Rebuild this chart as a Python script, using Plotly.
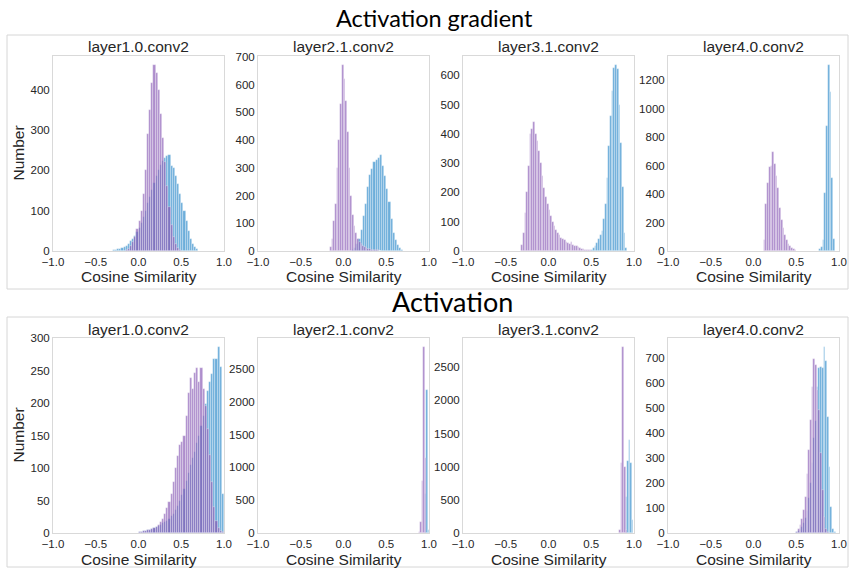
import plotly.graph_objects as go

# ---------------- data ----------------
group_titles = ["Activation gradient", "Activation"]
panel_titles = ["layer1.0.conv2", "layer2.1.conv2", "layer3.1.conv2", "layer4.0.conv2"]
x_ticks = [-1.0, -0.5, 0.0, 0.5, 1.0]

# each series: (first bin edge, bin width, counts)
grad_l1_blue_bins = (-0.30, 0.025)
grad_l1_blue = [2, 3, 4, 5, 7, 9, 12, 18, 24, 30, 38, 48, 58, 70, 85, 100, 118, 135, 150, 168,
                 185, 200, 212, 222, 230, 236, 238, 210, 205, 185, 165, 140, 120, 98, 75, 50, 30, 18, 9, 4]
grad_l1_purple_bins = (-0.15, 0.025)
grad_l1_purple = [3, 6, 12, 22, 35, 55, 75, 100, 140, 200, 290, 350, 415, 460, 440, 400, 340, 280,
                  220, 160, 110, 65, 35, 18, 8, 3]

grad_l2_blue_bins = (0.10, 0.025)
grad_l2_blue = [5, 12, 25, 45, 75, 125, 170, 230, 275, 295, 320, 330, 335, 348, 305, 270, 225, 175,
                115, 65, 40, 22, 12, 5]
grad_l2_purple_bins = (-0.16, 0.02)
grad_l2_purple = [15, 45, 110, 170, 300, 400, 530, 670, 620, 540, 430, 300, 200, 130, 90, 65, 45, 32,
                  24, 18, 14, 11, 9, 7, 5, 4, 3, 2, 2, 1]

grad_l3_blue_bins = (0.50, 0.02)
grad_l3_blue = [5, 10, 18, 28, 40, 55, 70, 110, 160, 250, 360, 460, 545, 625, 634, 620, 500, 370, 220, 60, 10]
grad_l3_purple_bins = (-0.32, 0.02)
grad_l3_purple = [20, 60, 130, 200, 290, 400, 415, 442, 400, 375, 340, 300, 255, 215, 185, 160, 140, 118,
                  100, 85, 72, 62, 55, 45, 40, 38, 32, 28, 25, 30, 22, 18, 16, 13, 10, 8, 6, 5, 4, 3, 2]

grad_l4_blue_bins = (0.77, 0.02)
grad_l4_blue = [12, 30, 80, 410, 880, 1305, 1115, 510, 82]
grad_l4_purple_bins = (0.12, 0.02)
grad_l4_purple = [80, 330, 480, 590, 600, 695, 610, 530, 440, 300, 220, 160, 110, 75, 50, 35, 22, 12, 6, 3]

act_l1_blue_bins = (0.0, 0.025)
act_l1_blue = [2, 2, 3, 3, 4, 5, 6, 7, 9, 11, 13, 15, 17, 19, 22, 26, 30, 36, 42, 50, 58, 68, 80, 92,
               105, 115, 125, 138, 150, 165, 180, 198, 218, 232, 245, 268, 268, 286, 255, 60]
act_l1_purple_bins = (0.0, 0.025)
act_l1_purple = [2, 2, 3, 3, 4, 5, 6, 8, 10, 13, 17, 22, 30, 38, 48, 60, 78, 100, 118, 135, 140, 150,
                 180, 215, 238, 222, 246, 254, 232, 254, 222, 196, 160, 120, 78, 40, 18, 8, 3, 1]

act_l2_blue_bins = (0.952, 0.0175)
act_l2_blue = [600, 2180, 40]
act_l2_purple_bins = (0.8825, 0.0175)
act_l2_purple = [15, 170, 800, 2830, 1140]

act_l3_blue_bins = (0.905, 0.0175)
act_l3_blue = [540, 1090, 1400, 1050, 190]
act_l3_purple_bins = (0.828, 0.0185)
act_l3_purple = [40, 1050, 2800, 1000, 40]

act_l4_blue_bins = (0.50, 0.02)
act_l4_blue = [4, 8, 15, 25, 40, 60, 90, 140, 200, 280, 380, 450, 586, 660, 667, 660, 744, 691, 466,
               265, 104, 17, 3]
act_l4_purple_bins = (0.50, 0.02)
act_l4_purple = [4, 17, 31, 58, 91, 145, 238, 332, 452, 586, 696, 673, 573, 493, 319, 171, 64, 17, 3]

y_dticks = [100, 100, 100, 200, 50, 500, 500, 100]

panels = [
    (grad_l1_blue_bins, grad_l1_blue, grad_l1_purple_bins, grad_l1_purple),
    (grad_l2_blue_bins, grad_l2_blue, grad_l2_purple_bins, grad_l2_purple),
    (grad_l3_blue_bins, grad_l3_blue, grad_l3_purple_bins, grad_l3_purple),
    (grad_l4_blue_bins, grad_l4_blue, grad_l4_purple_bins, grad_l4_purple),
    (act_l1_blue_bins, act_l1_blue, act_l1_purple_bins, act_l1_purple),
    (act_l2_blue_bins, act_l2_blue, act_l2_purple_bins, act_l2_purple),
    (act_l3_blue_bins, act_l3_blue, act_l3_purple_bins, act_l3_purple),
    (act_l4_blue_bins, act_l4_blue, act_l4_purple_bins, act_l4_purple),
]

# ---------------- layout constants ----------------
W, H = 850, 569
col_left_px = [53, 258, 463, 668]
col_w_px = 171
row_top_px = [56, 338]
row_bot_px = [251, 533]

BLUE = "rgba(40,135,200,0.68)"
PURPLE = "rgba(135,88,180,0.68)"
EDGE = "rgba(255,255,255,0.55)"
FONT = "Liberation Sans, Arial, sans-serif"
TXT = "#262626"

fig = go.Figure()
annotations = []
shapes = []

def px_x(x):
    return x / W

def px_y(y):
    return 1 - y / H

for i, (bb, bc, pb, pc) in enumerate(panels):
    r, c = divmod(i, 4)
    k = "" if i == 0 else str(i + 1)
    xa, ya = "x" + k, "y" + k
    for (start, width), counts, color in ((bb, bc, BLUE), (pb, pc, PURPLE)):
        centers = [start + width * (j + 0.5) for j in range(len(counts))]
        fig.add_trace(go.Bar(x=centers, y=counts, width=width, xaxis=xa, yaxis=ya,
                             marker=dict(color=color, line=dict(color=EDGE, width=0.6)),
                             showlegend=False, hoverinfo="skip"))
    ymax = max(max(bc), max(pc)) * 1.05
    x0 = col_left_px[c]
    fig.layout["xaxis" + k] = dict(
        domain=[px_x(x0), px_x(x0 + col_w_px)], anchor=ya, range=[-1, 1], automargin=False,
        tickvals=x_ticks, ticktext=[("\u2212" if v < 0 else "") + f"{abs(v):.1f}" for v in x_ticks],
        showgrid=False, zeroline=False, showline=True, mirror=True, linecolor="#d9d9d9", linewidth=1,
        ticks="", tickfont=dict(family=FONT, size=11.5, color=TXT), fixedrange=True)
    fig.layout["yaxis" + k] = dict(
        domain=[px_y(row_bot_px[r]), px_y(row_top_px[r])], anchor=xa, range=[0, ymax], automargin=False,
        dtick=y_dticks[i], tick0=0,
        showgrid=False, zeroline=False, showline=True, mirror=True, linecolor="#d9d9d9", linewidth=1,
        ticks="", tickfont=dict(family=FONT, size=11.5, color=TXT), fixedrange=True)
    cx = x0 + col_w_px / 2
    annotations.append(dict(text=panel_titles[c], x=px_x(cx), y=px_y(row_top_px[r] - 9),
                            xref="paper", yref="paper", showarrow=False, xanchor="center", yanchor="middle",
                            font=dict(family=FONT, size=15.5, color=TXT)))
    annotations.append(dict(text="Cosine Similarity", x=px_x(cx), y=px_y(row_bot_px[r] + 26),
                            xref="paper", yref="paper", showarrow=False, xanchor="center", yanchor="middle",
                            font=dict(family=FONT, size=15.5, color=TXT)))
    if c == 0:
        annotations.append(dict(text="Number", x=px_x(18), y=px_y((row_top_px[r] + row_bot_px[r]) / 2),
                                xref="paper", yref="paper", showarrow=False, textangle=-90,
                                xanchor="center", yanchor="middle",
                                font=dict(family=FONT, size=15.5, color=TXT)))

# group titles and frames
annotations.append(dict(text=group_titles[0], x=px_x(435), y=px_y(18), xref="paper", yref="paper",
                        showarrow=False, xanchor="center", yanchor="middle",
                        font=dict(family="Lato, sans-serif", size=23.5, color="black")))
annotations.append(dict(text=group_titles[1], x=px_x(452), y=px_y(302), xref="paper", yref="paper",
                        showarrow=False, xanchor="center", yanchor="middle",
                        font=dict(family="Lato, sans-serif", size=27, color="black")))
for (t, b) in ((35, 289), (317, 567)):
    shapes.append(dict(type="rect", xref="paper", yref="paper", x0=px_x(7), x1=px_x(848),
                       y0=px_y(b), y1=px_y(t), line=dict(color="#d6d6d6", width=1)))

fig.update_layout(width=W, height=H, margin=dict(l=0, r=0, t=0, b=0),
                  paper_bgcolor="white", plot_bgcolor="white", barmode="overlay", bargap=0,
                  annotations=annotations, shapes=shapes)
fig.write_html("out.html")
